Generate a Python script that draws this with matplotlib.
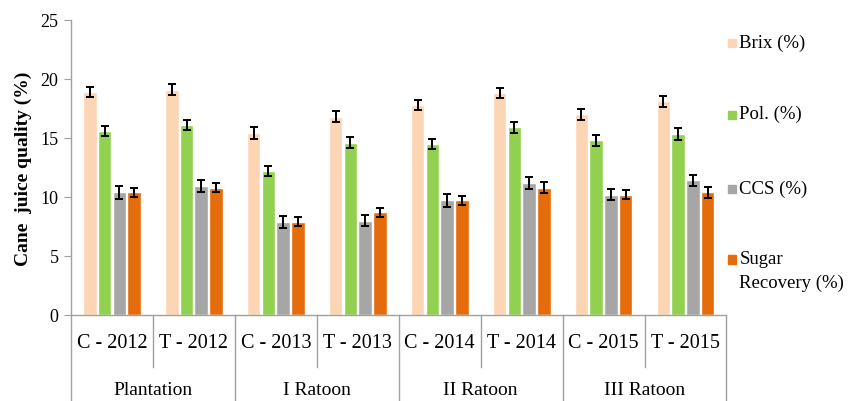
import numpy as np
import matplotlib.pyplot as plt
from matplotlib.patches import Rectangle
import matplotlib.transforms as mtransforms

plt.rcParams['font.family'] = ['Liberation Serif', 'DejaVu Serif']

# Data
years = ['C - 2012', 'T - 2012', 'C - 2013', 'T - 2013',
         'C - 2014', 'T - 2014', 'C - 2015', 'T - 2015']
crops = ['Plantation', 'I Ratoon', 'II Ratoon', 'III Ratoon']
series = ['Brix (%)', 'Pol. (%)', 'CCS (%)', 'Sugar\nRecovery (%)']
brix = [18.9, 19.1, 15.4, 16.8, 17.8, 18.8, 17.0, 18.1]
pol = [15.6, 16.1, 12.2, 14.6, 14.5, 15.9, 14.8, 15.3]
ccs = [10.4, 10.9, 7.9, 8.0, 9.7, 11.2, 10.2, 11.4]
sugar = [10.4, 10.8, 7.9, 8.7, 9.7, 10.8, 10.2, 10.4]
brix_err = [0.45, 0.45, 0.5, 0.45, 0.45, 0.45, 0.45, 0.45]
pol_err = [0.45, 0.45, 0.45, 0.45, 0.45, 0.45, 0.45, 0.5]
ccs_err = [0.55, 0.5, 0.5, 0.5, 0.55, 0.5, 0.5, 0.5]
sugar_err = [0.38, 0.4, 0.4, 0.4, 0.38, 0.45, 0.4, 0.45]

values = [brix, pol, ccs, sugar]
errors = [brix_err, pol_err, ccs_err, sugar_err]
colors = ['#FCD5B5', '#92D050', '#A6A6A6', '#E46C0A']

fig = plt.figure(figsize=(8.48, 4.02), dpi=100)
ax = fig.add_axes([0.0837, 0.214, 0.773, 0.734])

x = np.arange(len(years)) + 0.5
step = 0.18
for k in range(4):
    ax.bar(x + (k - 1.5) * step, values[k], width=0.165, color=colors[k],
           edgecolor='white', linewidth=1.0, zorder=2)
    ax.errorbar(x + (k - 1.5) * step, values[k], yerr=errors[k], fmt='none',
                ecolor='black', elinewidth=1.4, capsize=3, capthick=1.4, zorder=3)

ax.set_xlim(0, 8)
ax.set_ylim(0, 25)
ax.set_yticks([0, 5, 10, 15, 20, 25])
ax.tick_params(axis='y', direction='out', length=5, color='#A0A0A0',
               labelsize=13, pad=4)
ax.set_xticks([])
for s in ['top', 'right']:
    ax.spines[s].set_visible(False)
for s in ['left', 'bottom']:
    ax.spines[s].set_color('#A0A0A0')
    ax.spines[s].set_linewidth(1.0)
ax.set_ylabel('Cane  juice quality (%)', fontsize=14, fontweight='bold',
              labelpad=6)

# two-level category axis
trans = mtransforms.blended_transform_factory(ax.transData, ax.transAxes)
for i, lab in enumerate(years):
    ax.text(i + 0.5, -0.092, lab, transform=trans, ha='center', va='center',
            fontsize=14.5)
for i, lab in enumerate(crops):
    ax.text(2 * i + 1, -0.252, lab, transform=trans, ha='center', va='center',
            fontsize=14)
for b in range(9):
    bottom = -0.3 if b % 2 == 0 else -0.176
    ax.plot([b, b], [0, bottom], transform=trans, color='#A0A0A0',
            linewidth=1.0, clip_on=False)

# legend on the right
leg_y = [0.893, 0.715, 0.53, 0.355]
for k in range(4):
    fig.add_artist(Rectangle((0.858, leg_y[k] - 0.013), 0.0095, 0.02,
                             transform=fig.transFigure, color=colors[k]))
    fig.text(0.872, leg_y[k] + (0.02 if k == 3 else 0), series[k], fontsize=13.5,
             va='top' if k == 3 else 'center', ha='left', linespacing=1.5)

fig.savefig('out.png', dpi=100)
